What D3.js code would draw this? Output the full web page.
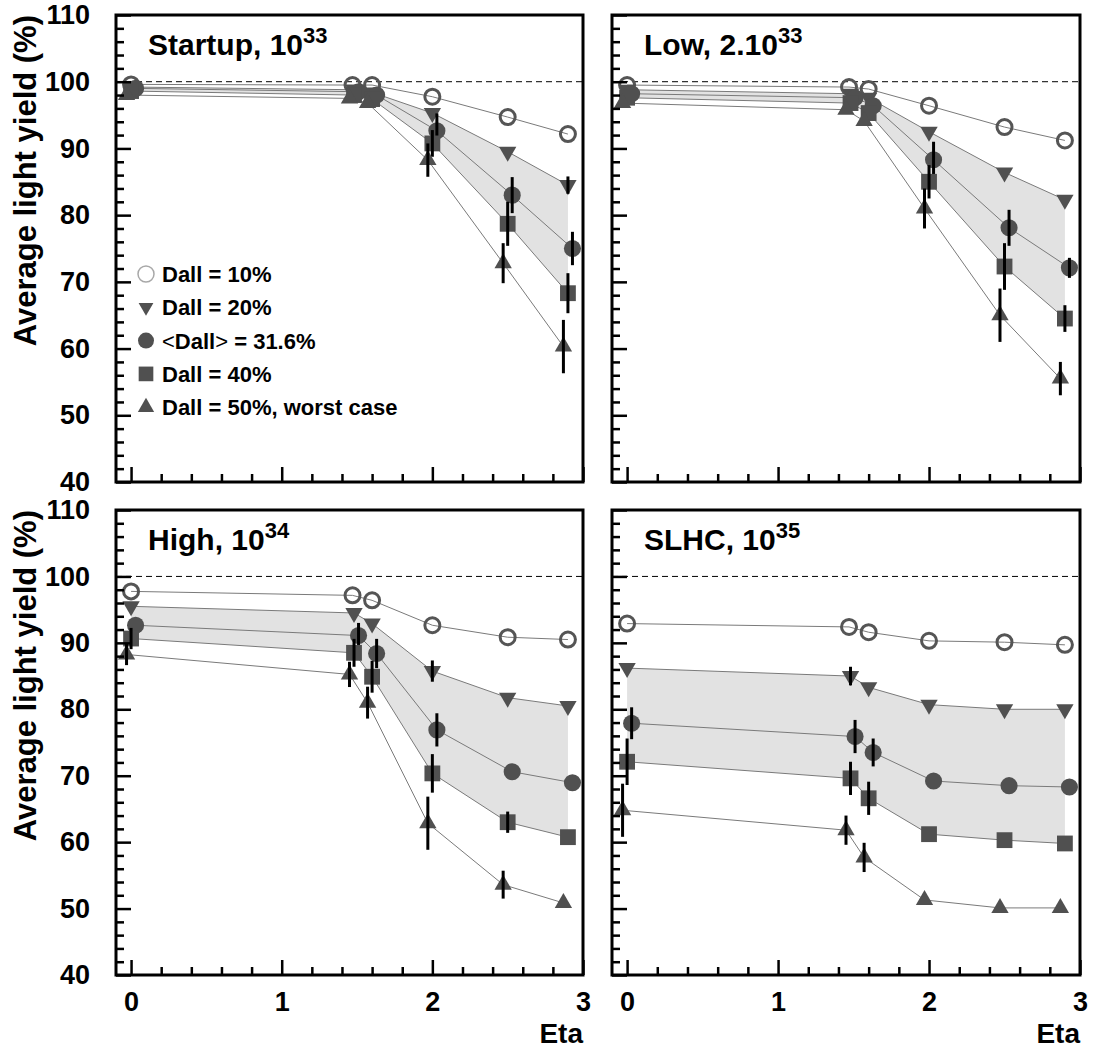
<!DOCTYPE html>
<html>
<head>
<meta charset="utf-8">
<script src="https://cdn.jsdelivr.net/npm/d3@7"></script>
<style>
  body { margin: 0; background: #fff; }
  text { font-family: "Liberation Sans", Arial, Helvetica, sans-serif; font-weight: bold; }
</style>
</head>
<body>
<div id="chart"></div>
<script>
// eta position of each point, per series (the series are slightly shifted in eta)
let eta10  = [0, 1.47, 1.6, 2.0, 2.5, 2.9];
let eta20  = [0, 1.48, 1.6, 2.0, 2.5, 2.9];
let eta316 = [0.03, 1.51, 1.63, 2.03, 2.53, 2.93];
let eta40  = [0, 1.48, 1.6, 2.0, 2.5, 2.9];
let eta50  = [-0.03, 1.45, 1.57, 1.97, 2.47, 2.87];
let etaSeries = [eta10, eta20, eta316, eta40, eta50];

let legendLabels = ["Dall = 10%", "Dall = 20%", "<Dall> = 31.6%", "Dall = 40%", "Dall = 50%, worst case"];

// average light yield (%) per panel: rows = Dall 10, 20, 31.6, 40, 50 %
let startupYield = [
    [99.6, 99.5, 99.5, 97.75, 94.7, 92.15],
    [99.2, 98.8, 98.4, 95.3, 89.5, 84.5],
    [99.0, 98.5, 98.0, 92.65, 83.0, 75.0],
    [98.6, 98.0, 97.4, 90.75, 78.7, 68.3],
    [98.0, 97.5, 96.8, 88.25, 72.8, 60.3]
];
let startupErr = [
    [0, 0, 0, 0, 0, 0],
    [0.3, 0.3, 0.4, 0.8, 1.0, 1.3],
    [0.4, 0.4, 0.5, 2.6, 2.7, 2.5],
    [0.4, 0.5, 0.6, 2.0, 3.3, 3.0],
    [0.5, 0.5, 0.6, 2.5, 3.0, 4.0]
];

let lowYield = [
    [99.5, 99.2, 98.9, 96.4, 93.2, 91.2],
    [98.8, 98.2, 97.6, 92.5, 86.4, 82.3],
    [98.2, 97.6, 96.4, 88.3, 78.1, 72.1],
    [97.6, 96.8, 95.3, 85.0, 72.3, 64.5],
    [96.8, 95.8, 94.1, 81.0, 65.0, 55.5]
];
let lowErr = [
    [0, 0, 0, 0, 0, 0],
    [0.5, 0.5, 0.5, 1.0, 1.0, 0.8],
    [0.5, 0.6, 0.8, 2.7, 2.7, 1.5],
    [0.5, 0.6, 0.8, 2.5, 3.5, 2.0],
    [0.6, 0.8, 1.0, 3.0, 4.0, 2.5]
];

let highYield = [
    [97.75, 97.15, 96.4, 92.65, 90.85, 90.5],
    [95.5, 94.5, 92.9, 85.75, 81.75, 80.5],
    [92.65, 91.1, 88.4, 76.9, 70.6, 68.95],
    [90.65, 88.5, 84.9, 70.35, 63.0, 60.75],
    [88.25, 85.25, 81.0, 62.85, 53.6, 50.85]
];
let highErr = [
    [0, 0, 0, 0, 0, 0],
    [0.5, 0.6, 1.1, 1.6, 0.8, 0.8],
    [1.2, 1.9, 2.2, 2.5, 0.9, 0.6],
    [1.6, 2.1, 2.4, 2.9, 1.6, 0.6],
    [1.6, 1.9, 2.4, 4.0, 2.1, 1.0]
];

let slhcYield = [
    [92.9, 92.4, 91.6, 90.3, 90.1, 89.7],
    [86.2, 85.0, 83.3, 80.7, 80.0, 80.0],
    [77.9, 75.9, 73.5, 69.2, 68.5, 68.3],
    [72.1, 69.6, 66.6, 61.2, 60.3, 59.8],
    [64.8, 61.8, 57.7, 51.3, 50.1, 50.1]
];
let slhcErr = [
    [0, 0, 0, 0, 0, 0],
    [1.2, 1.4, 1.0, 0.5, 0.5, 0.5],
    [2.4, 2.5, 2.1, 0.5, 0.5, 0.5],
    [3.5, 2.5, 2.5, 0.6, 0.5, 0.5],
    [4.0, 2.2, 2.2, 1.0, 0.5, 0.5]
];

let panelTitles = [["Startup, 10", "33"], ["Low, 2.10", "33"], ["High, 10", "34"], ["SLHC, 10", "35"]];
let yTicks = [40, 50, 60, 70, 80, 90, 100, 110];
let xTicks = [0, 1, 2, 3];

// layout of the four frames
let panels = [
    { x0: 116, x1: 583, y0: 15,  y1: 482, yields: startupYield, errs: startupErr, left: true,  bottom: false },
    { x0: 612, x1: 1080, y0: 15, y1: 482, yields: lowYield,     errs: lowErr,     left: false, bottom: false },
    { x0: 116, x1: 583, y0: 510, y1: 975, yields: highYield,    errs: highErr,    left: true,  bottom: true },
    { x0: 612, x1: 1080, y0: 510, y1: 975, yields: slhcYield,   errs: slhcErr,    left: false, bottom: true }
];

let markerFill = "#505050";
let lineColor = "#7a7a7a";

var svg = d3.select("#chart")
    .append("svg")
    .attr("width", 1093)
    .attr("height", 1050);

// draws one marker of the given series type
function drawMarker(g, type, cx, cy, legend) {
    if (type === 0) {
        g.append("circle")
            .attr("cx", cx).attr("cy", cy)
            .attr("r", legend ? 8 : 7.5)
            .attr("fill", "none")
            .attr("stroke", legend ? "#a8a8a8" : "#555")
            .attr("stroke-width", legend ? 1.5 : 3);
        return;
    }
    var sym, size, rot = 0;
    if (type === 1) { sym = d3.symbolTriangle; size = legend ? 95 : 130; rot = 180; }
    if (type === 2) { sym = d3.symbolCircle; size = legend ? 200 : 230; }
    if (type === 3) { sym = d3.symbolSquare; size = legend ? 215 : 250; }
    if (type === 4) { sym = d3.symbolTriangle; size = legend ? 115 : 130; }
    g.append("path")
        .attr("d", d3.symbol().type(sym).size(size)())
        .attr("transform", `translate(${cx},${cy}) rotate(${rot})`)
        .attr("fill", markerFill);
}

panels.forEach(function(p, pi) {
    var x = d3.scaleLinear().domain([-0.1, 3]).range([p.x0, p.x1]);
    var y = d3.scaleLinear().domain([40, 110]).range([p.y1, p.y0]);
    var g = svg.append("g");

    // shaded band between Dall = 20% and Dall = 40%
    var band = d3.area()
        .x(i => x(eta20[i]))
        .y0(i => y(p.yields[3][i]))
        .y1(i => y(p.yields[1][i]));
    g.append("path")
        .datum(d3.range(eta20.length))
        .attr("d", band)
        .attr("fill", "#e2e2e2");

    // 100% reference line
    g.append("line")
        .attr("x1", p.x0).attr("x2", p.x1)
        .attr("y1", y(100)).attr("y2", y(100))
        .attr("stroke", "#000")
        .attr("stroke-width", 1)
        .attr("stroke-dasharray", "6,4");

    // connecting lines
    p.yields.forEach(function(vals, s) {
        var line = d3.line()
            .x(i => x(etaSeries[s][i]))
            .y(i => y(vals[i]));
        g.append("path")
            .datum(d3.range(vals.length))
            .attr("d", line)
            .attr("fill", "none")
            .attr("stroke", lineColor)
            .attr("stroke-width", 1);
    });

    // markers and error bars (bars hidden inside the marker are skipped)
    p.yields.forEach(function(vals, s) {
        vals.forEach(function(v, i) {
            var cx = x(etaSeries[s][i]);
            drawMarker(g, s, cx, y(v), false);
            var e = p.errs[s][i];
            if (y(v - e) - y(v) > 8.5) {
                g.append("line")
                    .attr("x1", cx).attr("x2", cx)
                    .attr("y1", y(v - e))
                    .attr("y2", y(v + e))
                    .attr("stroke", "#000")
                    .attr("stroke-width", 3);
            }
        });
    });

    // y axis, ticks pointing inside
    var leftAxis = d3.axisLeft(y)
        .tickValues(yTicks)
        .tickSizeInner(-15)
        .tickSizeOuter(0)
        .tickPadding(26)
        .tickFormat(p.left ? d3.format("d") : "");
    var ya = g.append("g")
        .attr("transform", `translate(${p.x0},0)`)
        .call(leftAxis)
        .attr("font-size", 27)
        .attr("font-family", null);
    ya.select(".domain").remove();

    var leftMinor = d3.axisLeft(y)
        .tickValues(d3.range(42, 110, 2).filter(v => v % 10 !== 0))
        .tickSizeInner(-8)
        .tickSizeOuter(0)
        .tickFormat("");
    var ym = g.append("g")
        .attr("transform", `translate(${p.x0},0)`)
        .call(leftMinor);
    ym.select(".domain").remove();

    // x axis
    var bottomAxis = d3.axisBottom(x)
        .tickValues(xTicks)
        .tickSizeInner(-15)
        .tickSizeOuter(0)
        .tickPadding(17)
        .tickFormat(p.bottom ? d3.format("d") : "");
    var xa = g.append("g")
        .attr("transform", `translate(0,${p.y1})`)
        .call(bottomAxis)
        .attr("font-size", 27)
        .attr("font-family", null);
    xa.select(".domain").remove();

    var bottomMinor = d3.axisBottom(x)
        .tickValues(d3.range(0.2, 3, 0.2).filter(v => Math.abs(v - Math.round(v)) > 0.01))
        .tickSizeInner(-8)
        .tickSizeOuter(0)
        .tickFormat("");
    var xm = g.append("g")
        .attr("transform", `translate(0,${p.y1})`)
        .call(bottomMinor);
    xm.select(".domain").remove();

    g.selectAll(".tick line").attr("stroke", "#000").attr("stroke-width", 2.5);
    g.selectAll(".tick text").attr("fill", "#000");

    // frame
    g.append("rect")
        .attr("x", p.x0).attr("y", p.y0)
        .attr("width", p.x1 - p.x0).attr("height", p.y1 - p.y0)
        .attr("fill", "none")
        .attr("stroke", "#000")
        .attr("stroke-width", 3);

    // panel title with superscript
    var title = g.append("text")
        .attr("x", p.x0 + 32)
        .attr("y", p.y0 + 40)
        .attr("font-size", 30)
        .attr("fill", "#000");
    title.append("tspan").text(panelTitles[pi][0]);
    title.append("tspan")
        .attr("font-size", 22)
        .attr("dy", -12)
        .text(panelTitles[pi][1]);

    if (p.left) {
        g.append("text")
            .attr("transform", `translate(36,${p.y0}) rotate(-90)`)
            .attr("text-anchor", "end")
            .attr("font-size", 31)
            .attr("fill", "#000")
            .text("Average light yield (%)");
    }
    if (p.bottom) {
        g.append("text")
            .attr("x", p.x1)
            .attr("y", p.y1 + 68)
            .attr("text-anchor", "end")
            .attr("font-size", 28)
            .attr("fill", "#000")
            .text("Eta");
    }
});

// legend in the first panel
var legend = svg.append("g");
legendLabels.forEach(function(label, i) {
    var cy = 274 + i * 33.3;
    drawMarker(legend, i, 146, cy, true);
    var t = legend.append("text")
        .attr("x", 162)
        .attr("y", cy + 8)
        .attr("font-size", 22)
        .attr("fill", "#000");
    if (label.startsWith("<")) {
        t.append("tspan").attr("font-weight", "normal").text("<");
        t.append("tspan").text("Dall");
        t.append("tspan").attr("font-weight", "normal").text(">");
        t.append("tspan").text(label.slice(label.indexOf(">") + 1));
    } else {
        t.text(label);
    }
});
</script>
</body>
</html>
